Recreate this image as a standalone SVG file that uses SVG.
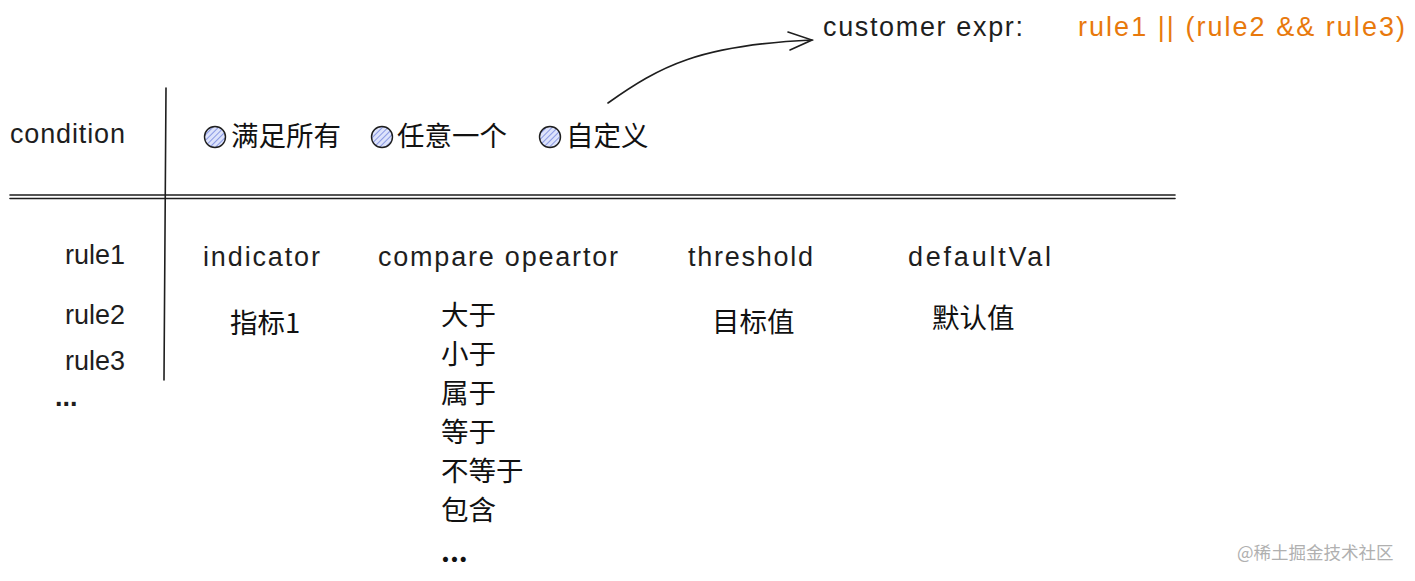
<svg xmlns="http://www.w3.org/2000/svg" width="1415" height="581" viewBox="0 0 1415 581">
<style>
.hand{font-family:"Liberation Sans","DejaVu Sans",sans-serif;fill:#1e1e1e;font-size:27px}
.cjk{font-family:"Noto Sans CJK SC","Noto Sans",sans-serif;fill:#111;font-size:27.5px}
.orange{fill:#e8790c}
.line{stroke:#1e1e1e;stroke-width:1.6;fill:none;stroke-linecap:round}
.radio{stroke:#1e1e1e;stroke-width:1.4;fill:url(#hatch)}
.wm{font-family:"Noto Sans CJK SC",sans-serif;fill:#b0b0b0;font-size:17.5px}
</style>
<defs>
<pattern id="hatch" width="4" height="4" patternUnits="userSpaceOnUse" patternTransform="rotate(45)">
<rect width="4" height="4" fill="#dde3fb"/>
<line x1="0" y1="0" x2="0" y2="4" stroke="#5b6fd6" stroke-width="1.3"/>
</pattern>
</defs>
<rect width="1415" height="581" fill="#ffffff"/>

<g id="grid">
<line class="line" x1="166" y1="88" x2="164" y2="380"/>
<line class="line" x1="10" y1="195" x2="1175" y2="195" stroke-width="1.2"/>
<line class="line" x1="10" y1="198.5" x2="1175" y2="198.5" stroke-width="1.2"/>
</g>

<g id="expr">
<text class="hand" x="823" y="36" textLength="200">customer expr:</text>
<text class="hand orange" x="1078" y="36" textLength="327">rule1 || (rule2 &amp;&amp; rule3)</text>
</g>

<g id="condition">
<text class="hand" x="10" y="143" textLength="115">condition</text>
</g>

<g id="opt-all">
<circle class="radio" cx="215" cy="137" r="10.5"/>
<text class="cjk" x="231" y="146">满足所有</text>
</g>
<g id="opt-any">
<circle class="radio" cx="382" cy="137" r="10.5"/>
<text class="cjk" x="397" y="146">任意一个</text>
</g>
<g id="opt-custom">
<circle class="radio" cx="550" cy="137" r="10.5"/>
<text class="cjk" x="566" y="146">自定义</text>
</g>

<g id="rules">
<text class="hand" x="125" y="264" text-anchor="end">rule1</text>
<text class="hand" x="125" y="324" text-anchor="end">rule2</text>
<text class="hand" x="125" y="370" text-anchor="end">rule3</text>
<text class="hand" x="55" y="406" font-weight="bold">...</text>
</g>

<g id="col-indicator">
<text class="hand" x="203" y="266" textLength="117">indicator</text>
<text class="cjk" x="230" y="333">指标1</text>
</g>

<g id="col-operator">
<text class="hand" x="378" y="266" textLength="240">compare opeartor</text>
<text class="cjk" x="441" y="325">大于</text>
<text class="cjk" x="441" y="364">小于</text>
<text class="cjk" x="441" y="403">属于</text>
<text class="cjk" x="441" y="442">等于</text>
<text class="cjk" x="441" y="481">不等于</text>
<text class="cjk" x="441" y="520">包含</text>
<text class="cjk" x="441" y="562" font-weight="bold">...</text>
</g>

<g id="col-threshold">
<text class="hand" x="688" y="266" textLength="125">threshold</text>
<text class="cjk" x="712" y="332">目标值</text>
</g>

<g id="col-default">
<text class="hand" x="908" y="266" textLength="143">defaultVal</text>
<text class="cjk" x="932" y="328">默认值</text>
</g>

<g id="connectors">
<path class="line" d="M608,103 C660,66 700,45 812,40"/>
<path class="line" d="M788,32 L812,40 L790,50"/>
</g>

<text class="wm" x="1237" y="559">@稀土掘金技术社区</text>
</svg>
